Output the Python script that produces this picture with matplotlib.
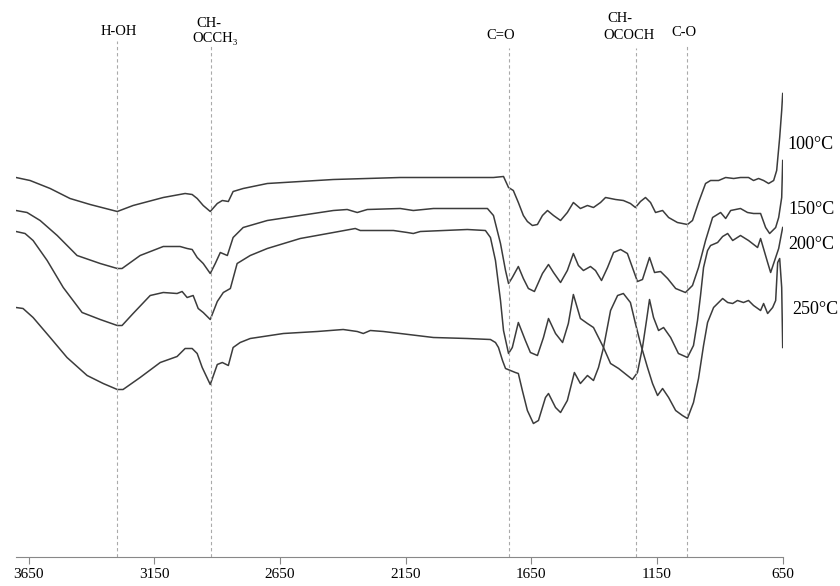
import matplotlib
matplotlib.use("Agg")
import matplotlib.pyplot as plt

# FTIR spectra, wavenumber (cm-1) vs transmittance (a.u., curves stacked)
wn_100 = [3701, 3645, 3565, 3486, 3406, 3298, 3235, 3115, 3028, 3000, 2980, 2956, 2928, 2900, 2880,
          2856, 2837, 2797, 2701, 2438, 2172, 1905,
          1801, 1761, 1741, 1722, 1702, 1682, 1666, 1646, 1626, 1606, 1586, 1562, 1534, 1507, 1483,
          1455, 1427, 1403, 1375, 1355, 1315, 1284, 1256, 1236, 1216, 1196, 1176, 1156, 1128, 1104,
          1069, 1029, 1009, 985, 957, 937,
          905, 877, 845, 818, 786, 766, 746, 726, 706, 686, 674, 662, 654, 650]
t_100 = [37.9, 37.6, 36.8, 35.8, 35.2, 34.5, 35.1, 35.9, 36.3, 36.2, 35.8, 35.1, 34.5, 35.3, 35.6,
         35.5, 36.5, 36.8, 37.3, 37.7, 37.9, 37.9,
         37.9, 38.0, 36.9, 36.6, 35.4, 34.1, 33.5, 33.1, 33.2, 34.1, 34.6, 34.1, 33.6, 34.4, 35.4,
         34.8, 35.1, 34.9, 35.4, 35.9, 35.7, 35.6, 35.3, 34.9, 35.5, 35.9, 35.4, 34.4, 34.6, 33.9,
         33.4, 33.2, 33.6, 35.4, 37.3, 37.6,
         37.6, 37.9, 37.8, 37.9, 37.9, 37.6, 37.8, 37.6, 37.3, 37.6, 38.6, 41.9, 44.6, 46.3]

wn_150 = [3701, 3657, 3605, 3537, 3458, 3366, 3298, 3279, 3207, 3115, 3048, 3020, 3000, 2980, 2956,
          2928, 2908, 2888, 2860, 2837, 2797, 2701, 2570, 2438, 2383, 2343, 2303, 2172, 2120, 2040,
          1825, 1801, 1773, 1753, 1741, 1726, 1702, 1682, 1662, 1638, 1606, 1582, 1562, 1534, 1507,
          1483, 1463, 1443, 1415, 1395, 1371, 1347, 1323, 1295, 1268, 1248, 1228, 1208, 1180, 1160,
          1136, 1108, 1076, 1037, 1009, 985, 957, 929,
          897, 877, 857, 818, 790, 766, 738, 718, 702, 678, 666, 654, 650]
t_150 = [34.6, 34.4, 33.6, 32.1, 30.1, 29.3, 28.8, 28.8, 30.1, 31.0, 31.0, 30.8, 30.7, 29.9, 29.3,
         28.3, 29.3, 30.4, 30.1, 31.9, 32.9, 33.6, 34.1, 34.6, 34.7, 34.4, 34.7, 34.8, 34.6, 34.8,
         34.8, 34.1, 31.3, 28.6, 27.3, 27.9, 29.0, 27.8, 26.8, 26.5, 28.3, 29.2, 28.4, 27.4, 28.6,
         30.3, 29.1, 28.6, 29.0, 28.6, 27.6, 28.9, 30.4, 30.7, 30.3, 28.9, 27.5, 27.7, 29.9, 28.4,
         28.5, 27.8, 26.8, 26.4, 27.1, 28.9, 31.6, 33.9,
         34.4, 33.8, 34.6, 34.8, 34.4, 34.3, 34.3, 32.9, 32.3, 32.9, 33.9, 35.9, 39.6]

wn_200 = [3701, 3665, 3633, 3577, 3513, 3438, 3366, 3298, 3279, 3235, 3167, 3115, 3060, 3040, 3020,
          2996, 2976, 2956, 2928, 2900, 2876, 2848, 2821, 2769, 2701, 2570, 2438, 2351, 2331, 2303,
          2199, 2144, 2120, 2092, 1905,
          1833, 1813, 1793, 1773, 1761, 1741, 1726, 1702, 1674, 1654, 1626, 1602, 1582, 1554, 1526,
          1503, 1483, 1455, 1427, 1403, 1383, 1363, 1335, 1303, 1268, 1248, 1228, 1208, 1192, 1180,
          1164, 1144, 1124, 1096, 1065, 1029, 1005, 989, 977, 965, 949, 937,
          909, 889, 869, 849, 818, 786, 750, 738, 710, 698, 678, 666, 654, 650]
t_200 = [32.5, 32.3, 31.6, 29.6, 26.9, 24.4, 23.7, 23.1, 23.1, 24.3, 26.1, 26.4, 26.3, 26.5, 25.9,
         26.1, 24.8, 24.4, 23.7, 25.5, 26.4, 26.8, 29.3, 30.1, 30.8, 31.8, 32.4, 32.8, 32.6, 32.6,
         32.6, 32.4, 32.3, 32.5, 32.7,
         32.6, 31.9, 29.6, 25.6, 22.6, 20.3, 20.9, 23.4, 21.6, 20.4, 20.1, 21.9, 23.8, 22.3, 21.4,
         23.3, 26.2, 23.8, 23.3, 22.9, 21.9, 20.9, 19.3, 18.8, 18.1, 17.7, 18.4, 20.9, 23.6, 25.7,
         23.9, 22.6, 22.9, 21.9, 20.3, 19.9, 21.1, 23.6, 26.1, 28.9, 30.6, 31.1,
         31.4, 32.0, 32.3, 31.6, 32.1, 31.6, 30.9, 31.8, 29.4, 28.4, 29.9, 30.8, 32.4, 32.9]

wn_250 = [3701, 3673, 3633, 3565, 3498, 3418, 3354, 3298, 3275, 3207, 3127, 3060, 3028, 3000, 2980,
          2960, 2928, 2900, 2880, 2856, 2837, 2809, 2769, 2637, 2502, 2399, 2343, 2319, 2291, 2239,
          2172, 2040,
          1905, 1813, 1793, 1781, 1765, 1753, 1714, 1702, 1686, 1666, 1642, 1622, 1594, 1582, 1554,
          1534, 1507, 1479, 1455, 1427, 1403, 1383, 1363, 1335, 1307, 1284, 1256, 1236, 1216, 1188,
          1168, 1148, 1128, 1104, 1076, 1049, 1029, 1005, 985, 965, 949, 925,
          889, 869, 849, 830, 806, 786, 766, 738, 726, 710, 690, 678, 670, 662, 654, 650]
t_250 = [24.9, 24.8, 23.9, 21.9, 19.9, 18.1, 17.3, 16.7, 16.7, 17.9, 19.4, 20.0, 20.8, 20.8, 20.3,
         18.9, 17.2, 19.2, 19.4, 19.1, 20.9, 21.4, 21.8, 22.3, 22.5, 22.7, 22.5, 22.3, 22.6, 22.5,
         22.3, 21.9,
         21.8, 21.7, 21.4, 20.9, 19.6, 18.8, 18.4, 18.3, 16.6, 14.6, 13.3, 13.6, 15.9, 16.3, 14.9,
         14.4, 15.6, 18.4, 17.3, 18.1, 17.6, 18.9, 20.9, 24.6, 26.1, 26.3, 25.4, 23.3, 21.3, 18.9,
         17.3, 16.1, 16.8, 15.9, 14.6, 14.1, 13.8, 15.4, 17.8, 21.1, 23.4, 24.9,
         25.8, 25.4, 25.3, 25.6, 25.4, 25.6, 25.1, 24.6, 25.3, 24.3, 24.9, 25.6, 29.4, 29.8, 26.9, 20.9]

series_labels = ["100°C", "150°C", "200°C", "250°C"]
label_y = [41.2, 34.7, 31.2, 24.7]

# marked bands
band_wn = [3300, 2925, 1740, 1235, 1030]
band_top = [51.6, 51.3, 50.9, 50.9, 51.3]

xticks = [3650, 3150, 2650, 2150, 1650, 1150, 650]

serif = ["Liberation Serif", "DejaVu Serif"]
plt.rcParams["font.family"] = serif

fig = plt.figure(figsize=(8.4, 5.86), dpi=100)
ax = fig.add_axes([16 / 840, 29.5 / 586, 766.7 / 840, 556.5 / 586])

line_col = "#3c3c3c"
for wn, t in [(wn_100, t_100), (wn_150, t_150), (wn_200, t_200), (wn_250, t_250)]:
    ax.plot(wn, t, color=line_col, lw=1.1, solid_joinstyle="round")

for b, top in zip(band_wn, band_top):
    ax.plot([b, b], [0, top], color="#aaaaaa", lw=0.8, ls=(0, (3, 2.5)))

# band names on top
fs = 10.5
ax.text(3290, 52.5, "H-OH", ha="center", va="center", fontsize=fs)
ax.text(2932, 53.3, "CH-", ha="center", va="center", fontsize=fs)
ax.text(2908, 51.8, "OCCH₃", ha="center", va="center", fontsize=fs)
ax.text(1773, 52.1, "C=O", ha="center", va="center", fontsize=fs)
ax.text(1299, 53.8, "CH-", ha="center", va="center", fontsize=fs)
ax.text(1260, 52.1, "OCOCH", ha="center", va="center", fontsize=fs)
ax.text(1045, 52.4, "C-O", ha="center", va="center", fontsize=fs)

# temperature labels at the right end
label_x = [630, 626, 626, 611]
for lx, ly, s in zip(label_x, label_y, series_labels):
    ax.text(lx, ly, s, ha="left", va="center", fontsize=13, clip_on=False)

ax.set_xlim(3701, 650)
ax.set_ylim(0, 55.65)
ax.set_xticks(xticks)
ax.set_xticklabels([str(v) for v in xticks], fontsize=11)
ax.set_yticks([])
for s in ["top", "right", "left"]:
    ax.spines[s].set_visible(False)
ax.spines["bottom"].set_color("#888888")
ax.tick_params(axis="x", direction="out", length=5, color="#888888", pad=3)
ax.patch.set_alpha(0)

fig.savefig("out.png", dpi=100)
